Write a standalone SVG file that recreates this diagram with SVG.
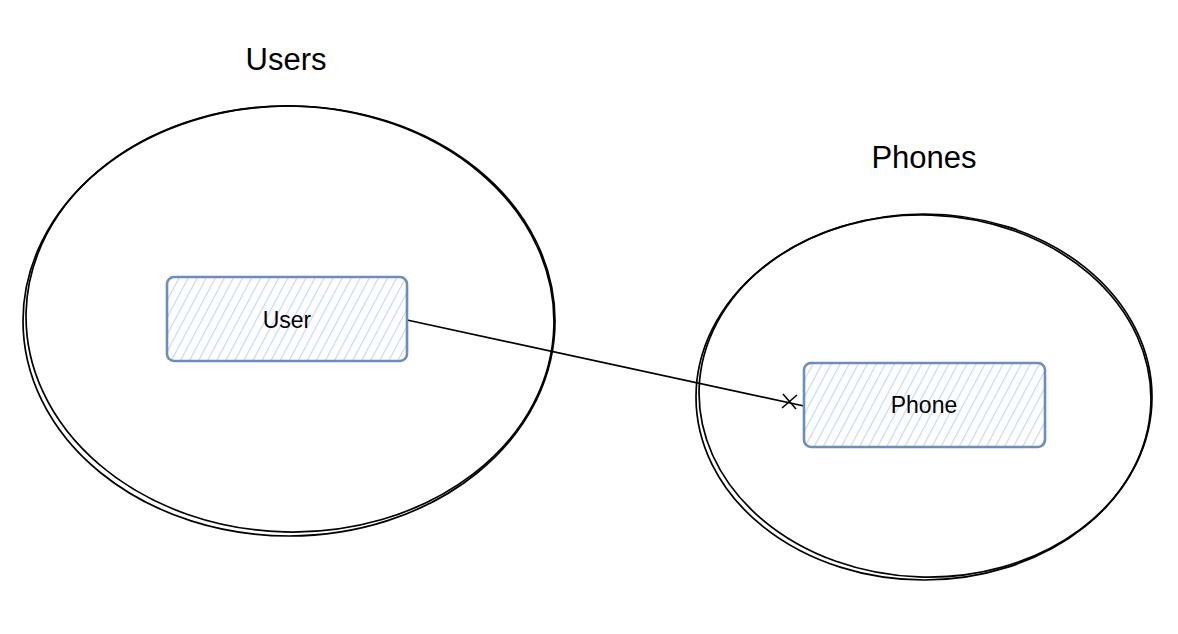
<svg xmlns="http://www.w3.org/2000/svg" width="1178" height="634" viewBox="0 0 1178 634">
<defs>
<style>
.ring{fill:none;stroke:#000;stroke-width:1.7}
.box{fill:url(#hatch);stroke:#6c8ebf;stroke-width:2.6}
.title{font-family:"Liberation Sans",Arial,sans-serif;font-size:31px;fill:#000;text-anchor:middle}
.label{font-family:"Liberation Sans",Arial,sans-serif;font-size:23px;fill:#000;text-anchor:middle}
.edge{fill:none;stroke:#000;stroke-width:1.6}
</style>
<pattern id="hatch" patternUnits="userSpaceOnUse" width="8" height="8" patternTransform="rotate(28)">
<rect width="8" height="8" fill="#fff"/>
<line x1="0" y1="0" x2="0" y2="8" stroke="#c4d8f7" stroke-width="2.4"/>
</pattern>
</defs>
<rect width="1178" height="634" fill="#fff"/>
<g id="users-group">
<ellipse class="ring" cx="289" cy="321" rx="266" ry="215"/>
<ellipse class="ring" cx="290" cy="319" rx="264" ry="213" transform="rotate(1.5 290 319)"/>
<text class="title" x="286" y="70">Users</text>
</g>
<g id="phones-group">
<ellipse class="ring" cx="924" cy="397" rx="228" ry="183"/>
<ellipse class="ring" cx="925" cy="396" rx="226" ry="181" transform="rotate(2 925 396)"/>
<text class="title" x="924" y="168">Phones</text>
</g>
<g id="connectors">
<line class="edge" x1="407" y1="320" x2="804" y2="406"/>
<line class="edge" x1="783" y1="394" x2="796" y2="409"/>
<line class="edge" x1="782" y1="408" x2="797" y2="395"/>
</g>
<g id="user">
<rect class="box" x="167" y="277" width="240" height="84" rx="7"/>
<text class="label" x="287" y="328">User</text>
</g>
<g id="phone">
<rect class="box" x="804" y="363" width="241" height="84" rx="7"/>
<text class="label" x="924" y="413">Phone</text>
</g>
</svg>
